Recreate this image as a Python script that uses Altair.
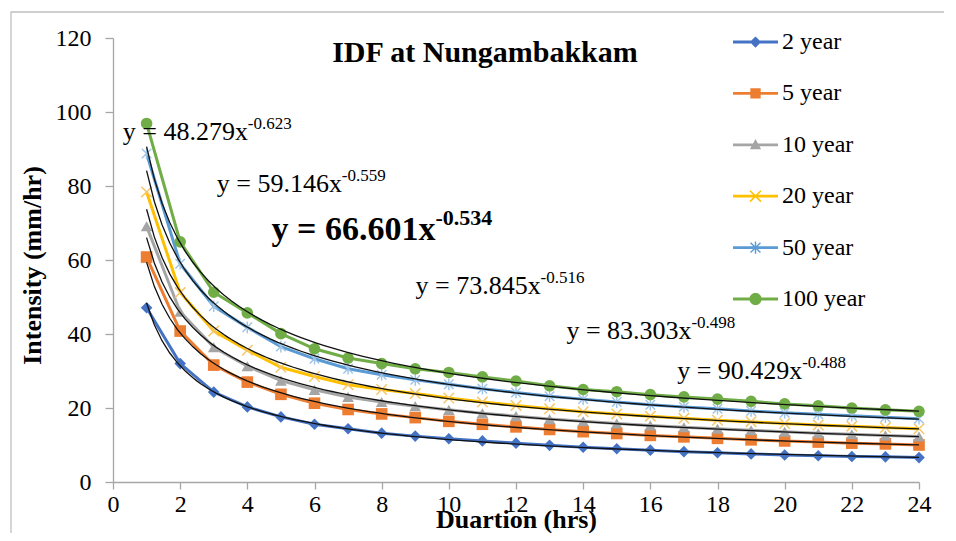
import math
import altair as alt
import pandas as pd

# ---------------- data ----------------
durations = list(range(1, 25))
series_names = ["2 year", "5 year", "10 year", "20 year", "50 year", "100 year"]
i_2yr = [47.1, 32.0, 24.3, 20.3, 17.6, 15.6, 14.4, 13.2, 12.4, 11.7, 11.1, 10.5,
         9.9, 9.4, 9.0, 8.6, 8.2, 7.9, 7.6, 7.3, 7.1, 6.9, 6.8, 6.6]
i_5yr = [60.8, 40.8, 31.6, 27.0, 23.7, 21.3, 19.6, 18.4, 17.4, 16.4, 15.6, 14.9,
         14.2, 13.6, 13.1, 12.6, 12.2, 11.8, 11.4, 11.1, 10.8, 10.5, 10.3, 10.0]
i_10yr = [69.1, 46.0, 36.4, 31.3, 27.4, 24.9, 23.0, 21.6, 20.5, 19.5, 18.6, 17.8,
          17.0, 16.4, 15.8, 15.3, 14.8, 14.4, 14.0, 13.6, 13.2, 12.9, 12.6, 12.3]
i_20yr = [78.4, 51.2, 40.8, 35.6, 31.0, 28.5, 26.3, 25.0, 23.9, 22.7, 21.6, 20.7,
          19.8, 19.0, 18.4, 17.8, 17.2, 16.7, 16.3, 15.8, 15.4, 15.1, 14.7, 14.4]
i_50yr = [88.8, 59.0, 47.5, 41.8, 36.6, 33.3, 30.6, 29.0, 27.6, 26.4, 25.2, 24.2,
          23.2, 22.4, 21.6, 20.9, 20.3, 19.8, 19.2, 18.7, 18.3, 17.9, 17.5, 17.1]
i_100yr = [96.9, 64.9, 51.3, 45.7, 40.1, 36.0, 33.5, 32.0, 30.6, 29.6, 28.4, 27.3,
           26.0, 25.0, 24.4, 23.6, 23.0, 22.4, 21.8, 21.1, 20.6, 20.0, 19.5, 19.1]
all_series = [i_2yr, i_5yr, i_10yr, i_20yr, i_50yr, i_100yr]

x_ticks = list(range(0, 25, 2))
y_ticks = list(range(0, 121, 20))

eq_main = ["y = 48.279x", "y = 59.146x", "y = 66.601x", "y = 73.845x", "y = 83.303x", "y = 90.429x"]
eq_exp = ["-0.623", "-0.559", "-0.534", "-0.516", "-0.498", "-0.488"]
eq_bold = [False, False, True, False, False, False]
# anchor of each equation label in data units (duration, intensity)
eq_at_x = [0.29, 3.09, 4.72, 9.01, 13.5, 16.8]
eq_at_y = [92.4, 78.5, 65.3, 50.7, 38.6, 27.8]

chart_title = "IDF at Nungambakkam"

# ---------------- styling ----------------
FONT = "Liberation Serif"
series_colors = ["#4472C4", "#ED7D31", "#A5A5A5", "#FFC000", "#5B9BD5", "#70AD47"]
marker_colors = ["#4472C4", "#ED7D31", "#A5A5A5", "#F6C76A", "#9DC3E6", "#70AD47"]
AXIS_GRAY = "#A6A6A6"


def poly_path(pts):
    area = 0.0
    for k in range(len(pts)):
        x1, y1 = pts[k]
        x2, y2 = pts[(k + 1) % len(pts)]
        area += x1 * y2 - x2 * y1
    if area < 0:
        pts = pts[::-1]
    return "M" + " L".join(f"{x:.4f},{y:.4f}" for x, y in pts) + " Z"


def bar(angle, half_len, half_w, s=1.0):
    a = math.radians(angle)
    ca, sa = math.cos(a), math.sin(a)
    pts = []
    for x, y in [(-half_len, -half_w), (half_len, -half_w), (half_len, half_w), (-half_len, half_w)]:
        pts.append(((x * ca - y * sa) * s, (x * sa + y * ca) * s))
    return poly_path(pts)


def x_marker(s=1.0):
    return bar(45, 1.27, 0.13, s) + " " + bar(-45, 1.27, 0.13, s)


def star_marker(s=1.0):
    return bar(90, 1.0, 0.12, s) + " " + bar(45, 1.15, 0.12, s) + " " + bar(-45, 1.15, 0.12, s)


def circle_poly(r, n=28):
    return poly_path([(r * math.cos(2 * math.pi * k / n), r * math.sin(2 * math.pi * k / n)) for k in range(n)])


point_shapes = ["diamond", "square", "triangle-up", x_marker(), star_marker(), "circle"]

line_seg = poly_path([(-1, -0.062), (1, -0.062), (1, 0.062), (-1, 0.062)])
m = 0.25
legend_shapes = [
    line_seg + " " + poly_path([(0, -m), (m, 0), (0, m), (-m, 0)]),
    line_seg + " " + poly_path([(-0.23, -0.23), (0.23, -0.23), (0.23, 0.23), (-0.23, 0.23)]),
    line_seg + " " + poly_path([(0, -0.26), (0.25, 0.2), (-0.25, 0.2)]),
    line_seg + " " + x_marker(0.27),
    line_seg + " " + star_marker(0.27),
    line_seg + " " + circle_poly(0.27),
]

# ---------------- tables ----------------
rows = []
for name, vals in zip(series_names, all_series):
    for d, v in zip(durations, vals):
        rows.append({"duration": d, "intensity": v, "series": name})
df = pd.DataFrame(rows)

eq_df = pd.DataFrame({"duration": eq_at_x, "intensity": eq_at_y, "main": eq_main,
                      "exp": eq_exp, "bold": eq_bold})
eq_reg = eq_df[~eq_df["bold"]]
eq_bld = eq_df[eq_df["bold"]]

W, H = 806, 444

X = alt.X("duration:Q",
          scale=alt.Scale(domain=[0, 24], nice=False, zero=False),
          axis=alt.Axis(values=x_ticks, title="Duartion (hrs)", grid=False,
                        domainColor=AXIS_GRAY, domainWidth=1.3, tickColor=AXIS_GRAY,
                        tickWidth=1.3, tickSize=7, labelFont=FONT, labelFontSize=24,
                        labelColor="#000000", labelPadding=3, labelFlush=False,
                        labelOverlap=False, titleFont=FONT, titleFontSize=26,
                        titleFontWeight="bold", titleColor="#000000", titleY=45,
                        titleBaseline="alphabetic"))
Y = alt.Y("intensity:Q",
          scale=alt.Scale(domain=[0, 120], nice=False),
          axis=alt.Axis(values=y_ticks, title="Intensity (mm/hr)", grid=False,
                        domainColor=AXIS_GRAY, domainWidth=1.3, tickColor=AXIS_GRAY,
                        tickWidth=1.3, tickSize=8, labelFont=FONT, labelFontSize=24,
                        labelColor="#000000", labelPadding=14, labelOverlap=False,
                        titleFont=FONT, titleFontSize=26, titleFontWeight="bold",
                        titleColor="#000000", titleAngle=270, titleX=-81, titleY=227,
                        titleBaseline="middle", titleAlign="center"))

line_color = alt.Color("series:N", scale=alt.Scale(domain=series_names, range=series_colors), legend=None)

lines = alt.Chart(df).mark_line(strokeWidth=3).encode(x=X, y=Y, color=line_color)

points = alt.Chart(df).mark_point(filled=True, size=135, opacity=1).encode(
    x=X, y=Y,
    color=alt.Color("series:N", scale=alt.Scale(domain=series_names, range=marker_colors), legend=None),
    shape=alt.Shape("series:N", scale=alt.Scale(domain=series_names, range=point_shapes), legend=None),
)

trend = alt.Chart(df).transform_regression(
    "duration", "intensity", groupby=["series"], method="pow", extent=[1, 24]
).mark_line(color="#111111", strokeWidth=1.3).encode(x=X, y=Y, detail="series:N")

leg = alt.Legend(title=None, orient="none", legendX=620, legendY=-18.5, symbolSize=2025,
                 labelFont=FONT, labelFontSize=24, labelColor="#000000", labelOffset=4,
                 rowPadding=16.4, padding=0, symbolStrokeWidth=0, symbolOpacity=1,
                 labelLimit=300)
legend_layer = alt.Chart(df).transform_filter("false").mark_point(filled=True, opacity=1).encode(
    x=X, y=Y,
    color=alt.Color("series:N", scale=alt.Scale(domain=series_names, range=series_colors), legend=leg),
    shape=alt.Shape("series:N", scale=alt.Scale(domain=series_names, range=legend_shapes), legend=leg),
)

eq_main_reg = alt.Chart(eq_reg).mark_text(font=FONT, fontSize=26, align="left",
                                          baseline="alphabetic", color="#000000").encode(
    x=X, y=Y, text="main:N")
eq_exp_reg = alt.Chart(eq_reg).mark_text(font=FONT, fontSize=17, align="left",
                                         baseline="alphabetic", color="#000000",
                                         dx=125, dy=-11).encode(x=X, y=Y, text="exp:N")
eq_main_bold = alt.Chart(eq_bld).mark_text(font=FONT, fontSize=34, fontWeight="bold",
                                           align="left", baseline="alphabetic",
                                           color="#000000").encode(x=X, y=Y, text="main:N")
eq_exp_bold = alt.Chart(eq_bld).mark_text(font=FONT, fontSize=22, fontWeight="bold",
                                          align="left", baseline="alphabetic",
                                          color="#000000", dx=164, dy=-15).encode(
    x=X, y=Y, text="exp:N")

title_layer = alt.Chart(pd.DataFrame({"t": [chart_title]})).mark_text(
    font=FONT, fontSize=30, fontWeight="bold", align="center", baseline="alphabetic",
    color="#000000").encode(x=alt.value(372), y=alt.value(24), text="t:N")

frame = alt.Chart(pd.DataFrame({"t": [0]})).mark_rect(
    filled=False, stroke="#BFBFBF", strokeWidth=1.3).encode(
    x=alt.value(-102), y=alt.value(-26), x2=alt.value(W + 120), y2=alt.value(H + 120))

chart = alt.layer(
    frame, lines, points, trend, legend_layer,
    eq_main_reg, eq_exp_reg, eq_main_bold, eq_exp_bold, title_layer,
).resolve_scale(
    color="independent", shape="independent"
).properties(
    width=W, height=H,
    autosize=alt.AutoSizeParams(type="none"),
    padding={"left": 105, "top": 30, "right": 25, "bottom": 51},
    background="white",
).configure_view(stroke=None)

chart.save("out.html", embed_options={"renderer": "svg", "actions": False})
